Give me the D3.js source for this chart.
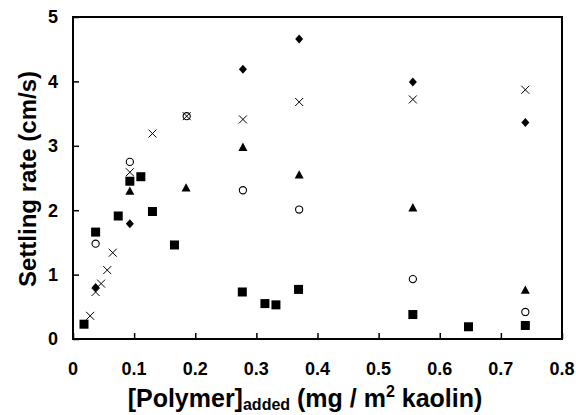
<!DOCTYPE html>
<html>
<head>
<meta charset="utf-8">
<script src="https://cdn.jsdelivr.net/npm/d3@7"></script>
<style>
  html, body { margin: 0; padding: 0; background: #fff; }
  svg { display: block; }
  text { font-family: "Liberation Sans", Arial, Helvetica, sans-serif; font-weight: bold; fill: #000; }
</style>
</head>
<body>
<svg id="chart" width="576" height="415"></svg>
<script>
// ---- data ----
const squareX = [0.018, 0.037, 0.074, 0.093, 0.111, 0.130, 0.166, 0.277, 0.314, 0.332, 0.369, 0.556, 0.647, 0.740];
const squareY = [0.23, 1.66, 1.91, 2.45, 2.52, 1.98, 1.46, 0.73, 0.55, 0.53, 0.77, 0.38, 0.19, 0.21];

const diamondX = [0.037, 0.093, 0.278, 0.370, 0.556, 0.740];
const diamondY = [0.80, 1.79, 4.19, 4.66, 3.99, 3.36];

const triangleX = [0.093, 0.185, 0.278, 0.370, 0.556, 0.740];
const triangleY = [2.30, 2.35, 2.98, 2.55, 2.04, 0.76];

const circleX = [0.037, 0.093, 0.186, 0.278, 0.370, 0.556, 0.740];
const circleY = [1.48, 2.75, 3.46, 2.31, 2.01, 0.93, 0.42];

const crossX = [0.028, 0.037, 0.046, 0.056, 0.065, 0.093, 0.130, 0.186, 0.278, 0.370, 0.556, 0.740];
const crossY = [0.36, 0.73, 0.86, 1.07, 1.34, 2.59, 3.19, 3.46, 3.41, 3.68, 3.72, 3.87];

const xTicks = [0, 0.1, 0.2, 0.3, 0.4, 0.5, 0.6, 0.7, 0.8];
const yTicks = [0, 1, 2, 3, 4, 5];

// ---- layout ----
(function () {
const svg = d3.select("#chart");
const mLeft = 73, mRight = 562, mTop = 17, mBottom = 339;
const x = d3.scaleLinear().domain([0, 0.8]).range([mLeft, mRight]);
const y = d3.scaleLinear().domain([0, 5]).range([mBottom, mTop]);

// frame
svg.append("rect")
  .attr("x", mLeft).attr("y", mTop)
  .attr("width", mRight - mLeft).attr("height", mBottom - mTop)
  .attr("fill", "none").attr("stroke", "#000").attr("stroke-width", 2);

// x axis ticks (inward)
const gx = svg.append("g").attr("transform", `translate(0,${mBottom})`)
  .call(d3.axisBottom(x).tickValues(xTicks).tickSize(-6).tickFormat(""));
gx.select(".domain").remove();
gx.selectAll(".tick line").attr("stroke", "#000").attr("stroke-width", 1.5);
gx.selectAll(".tick text").remove();

svg.append("g").selectAll("text").data(xTicks).join("text")
  .attr("x", d => x(d)).attr("y", 375)
  .attr("text-anchor", "middle")
  .style("font-size", "18px")
  .text(d => d === 0 ? "0" : d3.format(".1f")(d));

// y axis ticks (inward)
const gy = svg.append("g").attr("transform", `translate(${mLeft},0)`)
  .call(d3.axisLeft(y).tickValues(yTicks).tickSize(-6).tickFormat(""));
gy.select(".domain").remove();
gy.selectAll(".tick line").attr("stroke", "#000").attr("stroke-width", 1.5);
gy.selectAll(".tick text").remove();

svg.append("g").selectAll("text").data(yTicks).join("text")
  .attr("x", mLeft - 15).attr("y", d => y(d))
  .attr("dy", "0.36em")
  .attr("text-anchor", "end")
  .style("font-size", "18px")
  .text(d => d3.format("d")(d));

// axis titles
const xt = svg.append("text")
  .attr("x", 305).attr("y", 407)
  .attr("text-anchor", "middle")
  .style("font-size", "25px");
xt.append("tspan").text("[Polymer]");
xt.append("tspan").attr("dy", 3).style("font-size", "16px").text("added");
xt.append("tspan").attr("dy", -3).text(" (mg / m");
xt.append("tspan").attr("dy", -10).style("font-size", "16px").text("2");
xt.append("tspan").attr("dy", 10).text(" kaolin)");

svg.append("text")
  .attr("transform", `translate(36,179) rotate(-90)`)
  .attr("text-anchor", "middle")
  .style("font-size", "24px")
  .text("Settling rate (cm/s)");

// ---- marks ----
const zip = (xs, ys) => xs.map((v, i) => [v, ys[i]]);
const marks = svg.append("g");

marks.selectAll(".sq").data(zip(squareX, squareY)).join("rect")
  .attr("x", d => x(d[0]) - 4.5).attr("y", d => y(d[1]) - 4.5)
  .attr("width", 9).attr("height", 9).attr("fill", "#000");

marks.selectAll(".dm").data(zip(diamondX, diamondY)).join("path")
  .attr("transform", d => `translate(${x(d[0])},${y(d[1])})`)
  .attr("d", "M0,-4.5L4,0L0,4.5L-4,0Z").attr("fill", "#000");

marks.selectAll(".tr").data(zip(triangleX, triangleY)).join("path")
  .attr("transform", d => `translate(${x(d[0])},${y(d[1])})`)
  .attr("d", "M0,-4.5L4.5,3.8L-4.5,3.8Z").attr("fill", "#000");

marks.selectAll(".ci").data(zip(circleX, circleY)).join("circle")
  .attr("cx", d => x(d[0])).attr("cy", d => y(d[1])).attr("r", 3.6)
  .attr("fill", "none").attr("stroke", "#000").attr("stroke-width", 1.1);

marks.selectAll(".cr").data(zip(crossX, crossY)).join("path")
  .attr("transform", d => `translate(${x(d[0])},${y(d[1])})`)
  .attr("d", "M-4,-4L4,4M-4,4L4,-4")
  .attr("fill", "none").attr("stroke", "#000").attr("stroke-width", 1);
})();
</script>
</body>
</html>
